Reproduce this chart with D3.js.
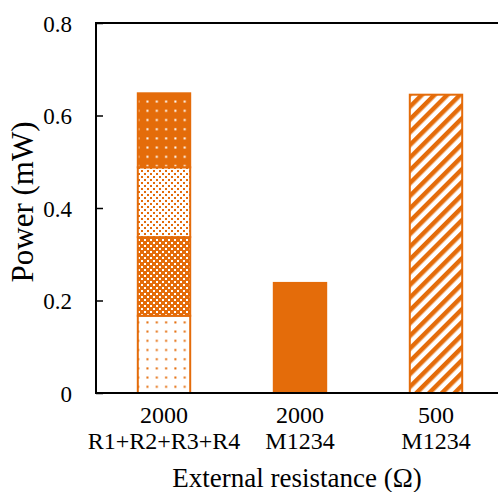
<!DOCTYPE html>
<html>
<head>
<meta charset="utf-8">
<script src="https://cdn.jsdelivr.net/npm/d3@7"></script>
<style>
  body { margin: 0; background: #fff; }
  svg { display: block; }
</style>
</head>
<body>
<div id="chart"></div>
<script>
// categories (two text lines each)
const categories = ["c1", "c2", "c3"];
const resistanceLabels = ["2000", "2000", "500"];
const moduleLabels = ["R1+R2+R3+R4", "M1234", "M1234"];

// stacked parts of the first bar (R1, R2, R3, R4)
const stackValues = [0.167, 0.170, 0.151, 0.160];
const stackPatterns = ["dotsLight", "checkDark", "checkLight", "dotsDark"];

// single bars
const singleValues = [null, 0.238, 0.645];
const singlePatterns = [null, "solid", "stripes"];

const yTicks = [0, 0.2, 0.4, 0.6, 0.8];

const orange = "#E46C0A";
const font = "'Liberation Serif', 'Times New Roman', serif";
const width = 498, height = 492;
const margin = { top: 23, right: 0, bottom: 99, left: 96 };
const innerW = width - margin.left - margin.right;
const innerH = height - margin.top - margin.bottom;

const svg = d3.select("#chart").append("svg")
  .attr("width", width)
  .attr("height", height);

// patterns
const defs = svg.append("defs");

function dotPattern(id, bg, fg) {
  const p = defs.append("pattern")
    .attr("id", id)
    .attr("patternUnits", "userSpaceOnUse")
    .attr("width", 9.3).attr("height", 9.2);
  p.append("rect").attr("width", 9.3).attr("height", 9.2).attr("fill", bg);
  p.append("rect").attr("x", 4).attr("y", 4).attr("width", 2).attr("height", 2).attr("fill", fg);
}
dotPattern("dotsLight", "#fff", orange);
dotPattern("dotsDark", orange, "#fff");

function checkPattern(id, bg, fg) {
  const p = defs.append("pattern")
    .attr("id", id)
    .attr("patternUnits", "userSpaceOnUse")
    .attr("width", 6).attr("height", 6);
  p.append("rect").attr("width", 6).attr("height", 6).attr("fill", bg);
  p.append("rect").attr("x", 0).attr("y", 0).attr("width", 2).attr("height", 2).attr("fill", fg);
  p.append("rect").attr("x", 3).attr("y", 3).attr("width", 2).attr("height", 2).attr("fill", fg);
}
checkPattern("checkDark", orange, "#fff");
checkPattern("checkLight", "#fff", orange);

const stripes = defs.append("pattern")
  .attr("id", "stripes")
  .attr("patternUnits", "userSpaceOnUse")
  .attr("width", 9).attr("height", 9)
  .attr("patternTransform", "rotate(45)");
stripes.append("rect").attr("width", 9).attr("height", 9).attr("fill", "#fff");
stripes.append("rect").attr("width", 4.5).attr("height", 9).attr("fill", orange);

const fillFor = (p) => (p === "solid" ? orange : `url(#${p})`);

const g = svg.append("g").attr("transform", `translate(${margin.left},${margin.top})`);

const x = d3.scaleBand()
  .domain(categories)
  .range([0, innerW + 6])
  .paddingInner(0.6)
  .paddingOuter(0.3);

const y = d3.scaleLinear().domain([0, 0.8]).range([innerH, 0]);

// stacked bar
const stacked = [];
let acc = 0;
stackValues.forEach((v, i) => {
  stacked.push({ y0: acc, y1: acc + v, pattern: stackPatterns[i] });
  acc += v;
});

g.selectAll(".seg")
  .data(stacked)
  .join("rect")
  .attr("class", "seg")
  .attr("x", x(categories[0]) + 1)
  .attr("width", x.bandwidth() - 2)
  .attr("y", (d) => y(d.y1))
  .attr("height", (d) => y(d.y0) - y(d.y1))
  .attr("fill", (d) => fillFor(d.pattern))
  .attr("stroke", orange)
  .attr("stroke-width", 2);

const singles = categories
  .map((c, i) => ({ c, v: singleValues[i], pattern: singlePatterns[i] }))
  .filter((d) => d.v !== null);

g.selectAll(".bar")
  .data(singles)
  .join("rect")
  .attr("class", "bar")
  .attr("x", (d) => x(d.c) + 1)
  .attr("width", x.bandwidth() - 2)
  .attr("y", (d) => y(d.v))
  .attr("height", (d) => y(0) - y(d.v))
  .attr("fill", (d) => fillFor(d.pattern))
  .attr("stroke", orange)
  .attr("stroke-width", 2);

// left axis, ticks inside
const yAxis = g.append("g")
  .call(d3.axisLeft(y).tickValues(yTicks).tickSize(-7).tickPadding(24)
    .tickFormat((d) => (d === 0 ? "0" : d3.format(".1f")(d))));
yAxis.select(".domain").remove();
yAxis.selectAll("line").attr("stroke", "#000").attr("stroke-width", 1.5);
yAxis.selectAll("text")
  .style("font-family", font)
  .style("font-size", "23px")
  .attr("fill", "#000")
  .attr("dy", "0.35em");

g.append("line")
  .attr("x1", 0).attr("x2", 0)
  .attr("y1", 0).attr("y2", innerH + 1)
  .attr("stroke", "#000").attr("stroke-width", 2);

// top line
g.append("line")
  .attr("x1", -1).attr("x2", innerW)
  .attr("y1", 0).attr("y2", 0)
  .attr("stroke", "#000").attr("stroke-width", 2);

// bottom axis
g.append("line")
  .attr("x1", -1).attr("x2", innerW)
  .attr("y1", innerH).attr("y2", innerH)
  .attr("stroke", "#000").attr("stroke-width", 2);

const xLabels = g.append("g")
  .style("font-family", font)
  .style("font-size", "24px");
categories.forEach((c, i) => {
  const cx = x(c) + x.bandwidth() / 2;
  xLabels.append("text")
    .attr("x", cx).attr("y", innerH + 30)
    .attr("text-anchor", "middle")
    .text(resistanceLabels[i]);
  xLabels.append("text")
    .attr("x", cx).attr("y", innerH + 56)
    .attr("text-anchor", "middle")
    .text(moduleLabels[i]);
});

svg.append("text")
  .attr("x", 297)
  .attr("y", 487)
  .attr("text-anchor", "middle")
  .style("font-family", font)
  .style("font-size", "27px")
  .text("External resistance (Ω)");

svg.append("text")
  .attr("transform", "translate(33,202) rotate(-90)")
  .attr("text-anchor", "middle")
  .style("font-family", font)
  .style("font-size", "31px")
  .text("Power (mW)");
</script>
</body>
</html>
